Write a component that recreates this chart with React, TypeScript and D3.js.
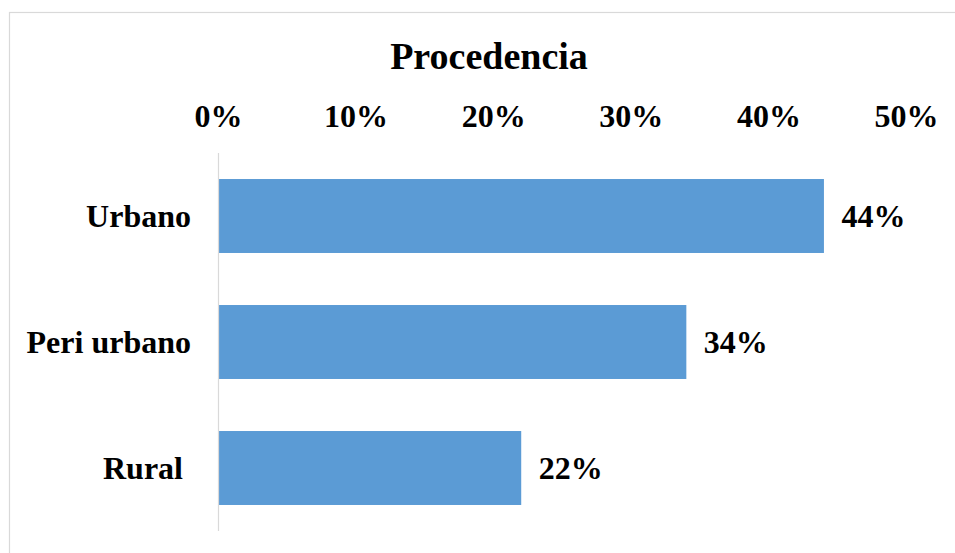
import React from "react";
import * as d3 from "d3";

const title = "Procedencia";
const categories = ["Urbano", "Peri urbano", "Rural "];
const values = [0.44, 0.34, 0.22];
const valueLabels = ["44%", "34%", "22%"];
const ticks = [0, 0.1, 0.2, 0.3, 0.4, 0.5];
const tickLabels = ["0%", "10%", "20%", "30%", "40%", "50%"];

const W = 955;
const H = 553;
const FONT = "'Liberation Serif', 'Times New Roman', Times, serif";

export default function App() {
  const x = d3.scaleLinear().domain([0, 0.5]).range([218.5, 906.5]);
  const y = d3
    .scaleBand<string>()
    .domain(categories)
    .range([153, 531])
    .paddingInner(0.413)
    .paddingOuter(0.2065);

  return (
    <svg
      width={W}
      height={H}
      style={{ position: "absolute", left: 0, top: 0, background: "#fff" }}
    >
      <rect x={9.5} y={12.5} width={W + 20} height={H + 20} fill="#fff" stroke="#d9d9d9" strokeWidth={1.2} />
      <text
        x={489}
        y={69}
        textAnchor="middle"
        fontFamily={FONT}
        fontWeight="bold"
        fontSize={38}
        fill="#000"
      >
        {title}
      </text>
      {ticks.map((t, i) => (
        <text
          key={"t" + i}
          x={x(t)}
          y={127}
          textAnchor="middle"
          fontFamily={FONT}
          fontWeight="bold"
          fontSize={32}
          fill="#000"
        >
          {tickLabels[i]}
        </text>
      ))}
      {categories.map((c, i) => {
        const yy = y(c)!;
        const bh = y.bandwidth();
        const cy = yy + bh / 2;
        return (
          <g key={c}>
            <rect x={x(0)} y={yy} width={x(values[i]) - x(0)} height={bh} fill="#5b9bd5" />
            <text
              x={191}
              y={cy}
              dy="0.35em"
              textAnchor="end"
              fontFamily={FONT}
              fontWeight="bold"
              fontSize={32}
              fill="#000"
              style={{ whiteSpace: "pre" }}
            >
              {c}
            </text>
            <text
              x={x(values[i]) + 17.5}
              y={cy}
              dy="0.35em"
              textAnchor="start"
              fontFamily={FONT}
              fontWeight="bold"
              fontSize={32}
              fill="#000"
            >
              {valueLabels[i]}
            </text>
          </g>
        );
      })}
      <line x1={x(0)} x2={x(0)} y1={153} y2={531} stroke="#d9d9d9" strokeWidth={1.2} />
    </svg>
  );
}
